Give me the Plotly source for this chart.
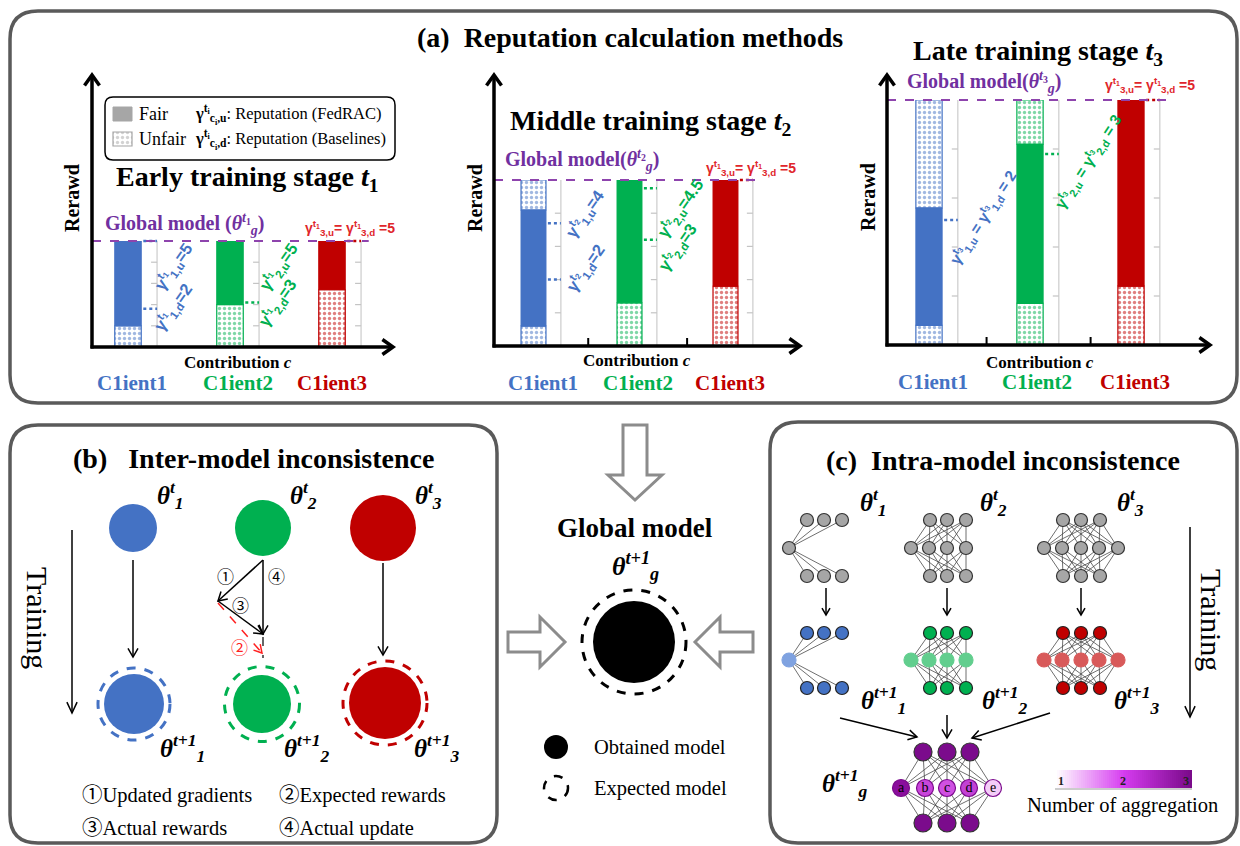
import numpy as np
import plotly.graph_objects as go

W, H = 1240, 846
SERIF = "Liberation Serif, Noto Sans CJK SC, serif"
SANS = "Liberation Sans, Noto Sans, sans-serif"

# ---------------- data ----------------
clients = ["C1ient1", "C1ient2", "C1ient3"]
client_colors = ["#4472C4", "#00B050", "#C00000"]
stage_names = ["Early training stage", "Middle training stage", "Late training stage"]
global_reward = 5
# bar segments: unfair 0..low, fair low..top, unfair top..global
t1_unfair_low = [1.0, 2.0, 2.7]
t1_fair_top = [5.0, 5.0, 5.0]
t2_unfair_low = [0.6, 1.3, 1.8]
t2_fair_top = [4.1, 5.0, 5.0]
t3_unfair_low = [0.4, 0.85, 1.2]
t3_fair_top = [2.8, 4.1, 5.0]
# reputation values (FedRAC u / baselines d)
t1_rep_u = [5, 5, 5]
t1_rep_d = [2, 3, 5]
t2_rep_u = [4, 4.5, 5]
t2_rep_d = [2, 3, 5]
t3_rep_u = [2, 3, 5]
t3_rep_d = [2, 3, 5]
# dotted guide levels per client
t1_guides = [[5, 1.8], [2.1], [5]]
t2_guides = [[3.7, 2.0], [4.75, 3.2], [5]]
t3_guides = [[2.55], [3.9], [5]]
# panel (b) legend
b_legend = ["①Updated gradients", "②Expected rewards", "③Actual rewards", "④Actual update"]
# panel (c) aggregation colour scale
agg_ticks = [1, 2, 3]
agg_node_labels = ["a", "b", "c", "d", "e"]
agg_node_colors = ["#8A0E9C", "#C845DA", "#D050E2", "#C241D5", "#F4CDF8"]

stages = [
    dict(low=t1_unfair_low, top=t1_fair_top, ru=t1_rep_u, rd=t1_rep_d, guides=t1_guides),
    dict(low=t2_unfair_low, top=t2_fair_top, ru=t2_rep_u, rd=t2_rep_d, guides=t2_guides),
    dict(low=t3_unfair_low, top=t3_fair_top, ru=t3_rep_u, rd=t3_rep_d, guides=t3_guides),
]

# ---------------- layout geometry ----------------
geo = [
    dict(x0=92, x1=393, c0=128, step=102, y0=347, y5=241, ytip=75,
         title=(247, 178), glab=(103, 224), sep=" ", contrib=(238, 362),
         cl=[132, 238, 332], cly=383, rer=(72, 198), red=(350, 228)),
    dict(x0=494, x1=800, c0=533.5, step=96, y0=346, y5=180, ytip=75,
         title=(650, 122), glab=(503, 160), sep="", contrib=(637, 360),
         cl=[543, 638, 730], cly=383, rer=(475, 198), red=(751, 168)),
    dict(x0=887, x1=1210, c0=929, step=101, y0=345, y5=100, ytip=75,
         title=(1038, 52), glab=(905, 82), sep="", contrib=(1040, 362),
         cl=[933, 1037, 1135], cly=382, rer=(868, 197), red=(1150, 85)),
]

fig = go.Figure()
ann = []
shapes = []


def T(x, y, text, size=16, color="black", bold=False, italic=False, family=SERIF,
      xanchor="center", angle=0, xref="x", yref="y"):
    if italic:
        text = f"<i>{text}</i>"
    if bold:
        text = f"<b>{text}</b>"
    ann.append(dict(x=x, y=y, xref=xref, yref=yref, text=text, showarrow=False,
                    font=dict(size=size, color=color, family=family),
                    xanchor=xanchor, yanchor="middle", textangle=angle))


def line(x0, y0, x1, y1, color="black", width=1.5, dash=None):
    shapes.append(dict(type="line", x0=x0, y0=y0, x1=x1, y1=y1, xref="x", yref="y",
                       line=dict(color=color, width=width, dash=dash)))


def path(d, color="black", width=1.5, fill=None, dash=None, layer="above"):
    s = dict(type="path", path=d, xref="x", yref="y", layer=layer,
             line=dict(color=color, width=width, dash=dash))
    if fill:
        s["fillcolor"] = fill
    shapes.append(s)


def arrow(x0, y0, x1, y1, color="black", width=1.5, head=9, spread=30, dash=None):
    line(x0, y0, x1, y1, color, width, dash)
    ang = np.arctan2(y1 - y0, x1 - x0)
    pts = []
    for s in (1, -1):
        a = ang + np.pi + s * np.radians(spread)
        pts.append((x1 + head * np.cos(a), y1 + head * np.sin(a)))
    path(f"M{pts[0][0]:.1f},{pts[0][1]:.1f} L{x1},{y1} L{pts[1][0]:.1f},{pts[1][1]:.1f}",
         color, width)


def circle(cx, cy, r, fill=None, color=None, width=0, dash=None):
    s = dict(type="circle", x0=cx - r, x1=cx + r, y0=cy - r, y1=cy + r, xref="x", yref="y",
             line=dict(color=color or "rgba(0,0,0,0)", width=width, dash=dash))
    s["fillcolor"] = fill if fill else "rgba(0,0,0,0)"
    shapes.append(s)


def rrect(x0, y0, x1, y1, r, color="#5A5A5A", width=3.5, layer="below"):
    d = (f"M{x0+r},{y0} L{x1-r},{y0} Q{x1},{y0} {x1},{y0+r} L{x1},{y1-r} "
         f"Q{x1},{y1} {x1-r},{y1} L{x0+r},{y1} Q{x0},{y1} {x0},{y1-r} "
         f"L{x0},{y0+r} Q{x0},{y0} {x0+r},{y0} Z")
    path(d, color, width, layer=layer)


def rep(stage, client, kind):
    return f"γ<sup>t<sub>{stage}</sub></sup><sub>{client},{kind}</sub>"


def fmt(v):
    return f"{v:g}"


def theta(sub, sup):
    return f"<b><i>θ</i></b><sup><b><i>{sup}</i></b></sup><sub><b><i>{sub}</i></b></sub>"


# ---------------- panel boxes ----------------
rrect(10, 11, 1237, 403, 28)
rrect(10, 425, 497, 843, 28)
rrect(770, 422, 1237, 843, 28)
T(630, 37, "(a)  Reputation calculation methods", 28, bold=True)

layout_axes = {}


def unfair_pat(col):
    return dict(color="white", line=dict(color=col, width=1.2),
                pattern=dict(shape=".", fgcolor=col, bgcolor="white", size=5, solidity=0.35))


# ---------------- panel (a) ----------------
for k, (st, g) in enumerate(zip(stages, geo)):
    ax = k + 2
    xr = [(g["x0"] - g["c0"]) / g["step"], (g["x1"] - g["c0"]) / g["step"]]
    layout_axes[f"xaxis{ax}"] = dict(domain=[g["x0"] / W, g["x1"] / W], range=xr, visible=False,
                                     fixedrange=True, anchor=f"y{ax}")
    layout_axes[f"yaxis{ax}"] = dict(domain=[1 - g["y0"] / H, 1 - g["y5"] / H],
                                     range=[0, global_reward], visible=False,
                                     fixedrange=True, anchor=f"x{ax}")

    def px(v, g=g):
        return g["c0"] + g["step"] * v

    def py(v, g=g):
        return g["y0"] - (g["y0"] - g["y5"]) * v / global_reward

    # grid lines beside bars
    for i in range(3):
        gx = px(i + 0.285)
        line(gx, py(0), gx, py(global_reward), "#D6D6D6", 1.5)
        for lv in range(1, global_reward):
            line(gx - 6, py(lv), gx, py(lv), "#C4C4C4", 1.2)
    if k > 0:
        for tv in (0.57, 1.6):
            line(px(tv), py(0), px(tv), py(0) - 8, "black", 2)

    # bars
    for i in range(3):
        col = client_colors[i]
        segs = [(0, st["low"][i], "u"), (st["low"][i], st["top"][i], "f"),
                (st["top"][i], global_reward, "u")]
        for b0, b1, kind in segs:
            if b1 - b0 <= 1e-6:
                continue
            mk = unfair_pat(col) if kind == "u" else dict(color=col, line=dict(color=col, width=1))
            fig.add_trace(go.Bar(x=[i], y=[b1 - b0], base=[b0], width=0.26, marker=mk,
                                 xaxis=f"x{ax}", yaxis=f"y{ax}", showlegend=False,
                                 hoverinfo="skip"))

    # guides
    for i in range(3):
        for lv in st["guides"][i]:
            line(px(i + 0.15), py(lv), px(i + 0.285), py(lv), client_colors[i], 2.5, "dot")

    # global line
    line(g["x0"], py(global_reward), px(2.36), py(global_reward), "#8E44AD", 2, "dash")

    # axes
    arrow(g["x0"], g["y0"] + 1.5, g["x0"], g["ytip"], "black", 3.5, 13, 35)
    arrow(g["x0"] - 1.5, g["y0"], g["x1"], g["y0"], "black", 3.5, 13, 35)

    # texts
    T(g["title"][0], g["title"][1],
      f"{stage_names[k]} <i>t</i><sub>{k+1}</sub>", 28, bold=True)
    T(g["glab"][0], g["glab"][1],
      f"Global model{g['sep']}(<i>θ</i><sup><i>t</i><sub>{k+1}</sub></sup><sub><i>g</i></sub>)",
      20, "#7030A0", bold=True, xanchor="left")
    T(g["contrib"][0], g["contrib"][1], "Contribution <i>c</i>", 17, bold=True)
    for i in range(3):
        T(g["cl"][i], g["cly"], clients[i], 21, client_colors[i], bold=True)
    T(g["rer"][0], g["rer"][1], "Rerawd", 20, bold=True, angle=-90)
    T(g["red"][0], g["red"][1],
      f"{rep(1, 3, 'u')}= {rep(1, 3, 'd')} ={fmt(st['ru'][2])}", 14, "#E0262B",
      bold=True, family=SANS)

# rotated reputation labels
def xa2(k):
    return dict(xref=f"x{k+2}", yref=f"y{k+2}")


lab_pos = {
    0: [(0, "u", 0.45, 3.8), (0, "d", 0.44, 1.9), (1, "u", 1.48, 3.8), (1, "d", 1.47, 2.1)],
    1: [(0, "u", 0.54, 4.0), (0, "d", 0.54, 2.35), (1, "u", 1.53, 4.15), (1, "d", 1.5, 2.98)],
}
for k, items in lab_pos.items():
    st = stages[k]
    for (i, kind, x, y) in items:
        val = st["ru"][i] if kind == "u" else st["rd"][i]
        T(x, y, f"{rep(k+1, i+1, kind)}={fmt(val)}", 16.5, client_colors[i], bold=True,
          family=SANS, angle=-55, **xa2(k))
for (i, x, y) in [(0, 0.53, 2.6), (1, 1.58, 3.75)]:
    st = stages[2]
    T(x, y, f"{rep(3, i+1, 'u')} = {rep(3, i+1, 'd')} = {fmt(st['rd'][i])}", 15.5,
      client_colors[i], bold=True, family=SANS, angle=-57, **xa2(2))

# legend box of (a)
rrect(105, 97, 395, 160, 8, "black", 1.5, layer="above")
fig.add_trace(go.Bar(x=[122.5], y=[14], base=[107], width=[19],
                     marker=dict(color="#A6A6A6", line=dict(color="#A6A6A6", width=1)),
                     showlegend=False, hoverinfo="skip"))
fig.add_trace(go.Bar(x=[122.5], y=[14], base=[132], width=[19], marker=unfair_pat("#A6A6A6"),
                     showlegend=False, hoverinfo="skip"))
T(137, 114, "Fair", 18, xanchor="left")
T(137, 139, "Unfair", 18, xanchor="left")
T(193, 114, "<b>γ<sup>t<sub>i</sub></sup><sub>c<sub>i</sub>,u</sub></b>: Reputation (FedRAC)", 16.5,
  xanchor="left")
T(193, 139, "<b>γ<sup>t<sub>i</sub></sup><sub>c<sub>i</sub>,d</sub></b>: Reputation (Baselines)", 16.5,
  xanchor="left")

# ---------------- panel (b) ----------------
T(253, 458, "(b)   Inter-model inconsistence", 28, bold=True)
top_c = [(133, 528, 24), (263, 528, 28), (383, 528, 33)]
bot_c = [(134, 704, 30, 36), (262, 704, 29, 37.5), (385, 703, 36, 42)]
for i in range(3):
    cx, cy, r = top_c[i]
    circle(cx, cy, r, fill=client_colors[i])
    cx, cy, r, rd = bot_c[i]
    circle(cx, cy, r, fill=client_colors[i])
    circle(cx, cy, rd, color=client_colors[i], width=3, dash="dash")
for (x, y, s) in [(170, 495, "1"), (303, 495, "2"), (428, 495, "3")]:
    T(x, y, theta(s, "t"), 25)
for (x, y, s) in [(182, 748, "1"), (307, 748, "2"), (437, 748, "3")]:
    T(x, y, theta(s, "t+1"), 25)
arrow(133, 560, 133, 657, "black", 1.5, 10)
arrow(383, 563, 383, 655, "black", 1.5, 10)
arrow(263, 560, 218, 601, "black", 1.5, 10)
arrow(218, 601, 263, 634, "black", 1.5, 10)
arrow(263, 560, 263, 634, "black", 1.5, 10)
arrow(218, 603, 262, 653, "#FF2020", 1.5, 9, dash="dash")
line(263, 637, 263, 658, "black", 1.2, "dash")
T(225, 575, "①", 17, family="Noto Sans CJK SC")
T(276, 575, "④", 17, family="Noto Sans CJK SC")
T(240, 604, "③", 17, family="Noto Sans CJK SC")
T(239, 646, "②", 17, "#FF2020", family="Noto Sans CJK SC")
T(38, 618, "Training", 30, angle=90)
arrow(72, 530, 72, 713, "black", 1.5, 12, 25)
for (x, y), txt in zip([(80, 795), (277, 795), (80, 828), (277, 828)], b_legend):
    T(x, y, txt, 20.5, xanchor="left")

# ---------------- centre ----------------
path("M623,425 L647,425 L647,475 L662,475 L635,500 L608,475 L623,475 Z", "#8C8C8C", 3, "white")
path("M508,632 L540,632 L540,617 L565,642 L540,667 L540,652 L508,652 Z", "#8C8C8C", 3, "white")
path("M753,632 L720,632 L720,617 L695,642 L720,667 L720,652 L753,652 Z", "#8C8C8C", 3, "white")
T(635, 528, "Global model", 27, bold=True)
T(635, 566, theta("g", "t+1"), 26)
circle(634, 642, 41, fill="black")
circle(634, 642, 52, color="black", width=3, dash="dash")
circle(556, 747, 12, fill="black")
circle(556, 788, 12, color="black", width=2.5, dash="dash")
T(592, 747, "Obtained model", 20.5, xanchor="left")
T(592, 788, "Expected model", 20.5, xanchor="left")

# ---------------- panel (c) ----------------
T(1003, 460, "(c)  Intra-model inconsistence", 28, bold=True)
net_tops = [[807, 824, 842], [930, 947, 966], [1063, 1081, 1100]]
net_mids = [[789], [911, 929, 947, 966], [1044, 1062, 1081, 1099, 1118]]
row_y = [(520, 548, 576), (633, 660, 688)]
light = ["#7FA2E0", "#62CE8E", "#D85A5A"]


def draw_net(tops, mids, bots, ys, ctop, cmid, cline_top, cline_mid, size, msize,
             mid_text=None, edge="#4A4A4A"):
    ex, ey = [], []
    for m in mids:
        for t in tops:
            ex += [t, m, None]
            ey += [ys[0], ys[1], None]
        for b in bots:
            ex += [m, b, None]
            ey += [ys[1], ys[2], None]
    fig.add_trace(go.Scatter(x=ex, y=ey, mode="lines", line=dict(color=edge, width=0.8),
                             showlegend=False, hoverinfo="skip"))
    fig.add_trace(go.Scatter(x=list(tops) + list(bots), y=[ys[0]] * len(tops) + [ys[2]] * len(bots),
                             mode="markers", marker=dict(size=size, color=ctop,
                                                         line=dict(color=cline_top, width=1.2)),
                             showlegend=False, hoverinfo="skip"))
    fig.add_trace(go.Scatter(x=list(mids), y=[ys[1]] * len(mids),
                             mode="markers+text" if mid_text else "markers",
                             text=mid_text, textfont=dict(family=SERIF, size=14, color="black"),
                             marker=dict(size=msize, color=cmid,
                                         line=dict(color=cline_mid, width=1.2)),
                             showlegend=False, hoverinfo="skip"))


for i in range(3):
    draw_net(net_tops[i], net_mids[i], net_tops[i], row_y[0], "#A6A6A6", "#A6A6A6",
             "#333333", "#333333", 13, 13)
    draw_net(net_tops[i], net_mids[i], net_tops[i], row_y[1], client_colors[i], light[i],
             "#222222", light[i], 13, 14)
    cx = net_tops[i][1] if i else 826
    arrow(cx, 588, cx, 615, "black", 1.5, 8)

for (x, y, s) in [(873, 502, "1"), (993, 502, "2"), (1130, 502, "3")]:
    T(x, y, theta(s, "t"), 25)
for (x, y, s) in [(883, 700, "1"), (1005, 700, "2"), (1137, 700, "3")]:
    T(x, y, theta(s, "t+1"), 25)

arrow(840, 718, 917, 737, "black", 1.5, 10)
arrow(947, 715, 947, 738, "black", 1.5, 10)
arrow(1050, 713, 972, 738, "black", 1.5, 10)

draw_net([923, 947, 970], [901, 925, 947, 969, 993], [923, 947, 970], (752, 788, 823),
         "#7B0B8C", agg_node_colors, "#333333", "#7B0B8C", 18, 17, mid_text=agg_node_labels)
T(845, 783, theta("g", "t+1"), 25)

T(1212, 620, "Training", 30, angle=90)
arrow(1190, 527, 1190, 717, "black", 1.5, 12, 25)

# colour bar
cb_x = np.linspace(1055, 1192, 70)
cb_z = [list(np.linspace(agg_ticks[0], agg_ticks[-1], len(cb_x) - 1))]
fig.add_trace(go.Heatmap(x=cb_x, y=[770, 788], z=cb_z, showscale=False, hoverinfo="skip",
                         colorscale=[[0, "#FFFFFF"], [0.5, "#D63CF0"], [1, "#7A0A8A"]],
                         zmin=agg_ticks[0], zmax=agg_ticks[-1]))
line(1055, 789, 1192, 789, "#9A9A9A", 1.2)
for tv, x in zip(agg_ticks, [1061, 1123, 1186]):
    T(x, 781, str(tv), 12, "#222222", bold=True)
T(1122, 805, "Number of aggregation", 20.5)

fig.update_layout(
    width=W, height=H, margin=dict(l=0, r=0, t=0, b=0),
    paper_bgcolor="white", plot_bgcolor="rgba(0,0,0,0)",
    barmode="overlay", showlegend=False,
    xaxis=dict(domain=[0, 1], range=[0, W], visible=False, fixedrange=True),
    yaxis=dict(domain=[0, 1], range=[H, 0], visible=False, fixedrange=True),
    annotations=ann, shapes=shapes,
    **layout_axes,
)
fig.write_html("out.html", config={"displayModeBar": False},
               post_script="document.body.style.margin='0';document.body.style.overflow='hidden';")
